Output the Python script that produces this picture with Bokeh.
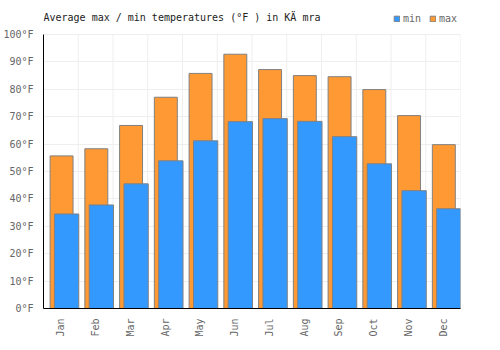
import numpy as np
from bokeh.plotting import figure
from bokeh.models import (Range1d, FixedTicker, PrintfTickFormatter, Legend, LegendItem,
                          ColumnDataSource, Label)
from bokeh.embed import file_html
from bokeh.resources import INLINE

months = ["Jan", "Feb", "Mar", "Apr", "May", "Jun", "Jul", "Aug", "Sep", "Oct", "Nov", "Dec"]
max_f = [55.7, 58.3, 66.8, 77.1, 85.8, 92.8, 87.2, 85.0, 84.6, 79.9, 70.4, 59.8]
min_f = [34.5, 37.8, 45.5, 53.9, 61.2, 68.2, 69.3, 68.3, 62.7, 52.8, 43.0, 36.4]
y_ticks = list(range(0, 101, 10))
title_text = "Average max / min temperatures (°F ) in KÄ mra"

FONT = "DejaVu Sans Mono"
idx = np.arange(len(months))
y_top = y_ticks[-1]
# frame is extended above the top tick to host the title and legend
y_end = y_top * 298 / 274

src = ColumnDataSource(dict(
    xmax=idx + 0.52, xmin=idx + 0.665, max_f=max_f, min_f=min_f,
))

p = figure(width=500, height=350, output_backend="svg", toolbar_location=None,
           x_range=Range1d(0, len(months)), y_range=Range1d(0, y_end),
           min_border_left=40, min_border_right=40, min_border_top=10, min_border_bottom=42)

p.outline_line_color = None
p.background_fill_color = "white"

# vertical grid lines at category boundaries, limited to the value range
bounds = np.arange(len(months) + 1)
p.segment(x0=bounds, y0=0, x1=bounds, y1=y_top, line_color="#eeeeee", line_width=1, level="underlay")

r_max = p.vbar(x="xmax", top="max_f", bottom=0, width=0.66, source=src,
               fill_color="#FF9933", line_color="#808080", line_width=1)
r_min = p.vbar(x="xmin", top="min_f", bottom=0, width=0.70, source=src,
               fill_color="#3399FF", line_color="#808080", line_width=1)

p.yaxis.ticker = FixedTicker(ticks=y_ticks)
p.yaxis.formatter = PrintfTickFormatter(format="%d°F")
p.yaxis.bounds = (0, y_top)
p.xaxis.ticker = FixedTicker(ticks=list(idx + 0.5))
p.xaxis.major_label_overrides = {float(i + 0.5): m for i, m in enumerate(months)}
p.xaxis.major_label_orientation = np.pi / 2

for ax in (p.xaxis[0], p.yaxis[0]):
    ax.axis_line_color = "black"
    ax.axis_line_width = 1
    ax.major_tick_line_color = None
    ax.minor_tick_line_color = None
    ax.major_label_text_font = FONT
    ax.major_label_text_font_size = "10px"
    ax.major_label_text_color = "#666666"
    ax.major_label_standoff = 4

p.xgrid.grid_line_color = None
p.ygrid.ticker = FixedTicker(ticks=y_ticks)
p.ygrid.grid_line_color = "#eeeeee"
p.ygrid.level = "underlay"

title = Label(x=0, y=y_top + 6.3, text=title_text, text_font=FONT, text_font_size="10px",
              text_color="#222222", text_baseline="middle", text_align="left")
p.add_layout(title)

legend = Legend(items=[LegendItem(label="min", renderers=[r_min]),
                       LegendItem(label="max", renderers=[r_max])],
                orientation="horizontal", location=(350, 284),
                label_text_font=FONT, label_text_font_size="10px",
                label_text_color="#666666", glyph_width=7, glyph_height=7,
                label_standoff=3, spacing=6, padding=0, margin=0,
                border_line_color=None, background_fill_alpha=0,
                label_height=10)
p.add_layout(legend, "center")

open("out.html", "w").write(file_html(p, INLINE))
